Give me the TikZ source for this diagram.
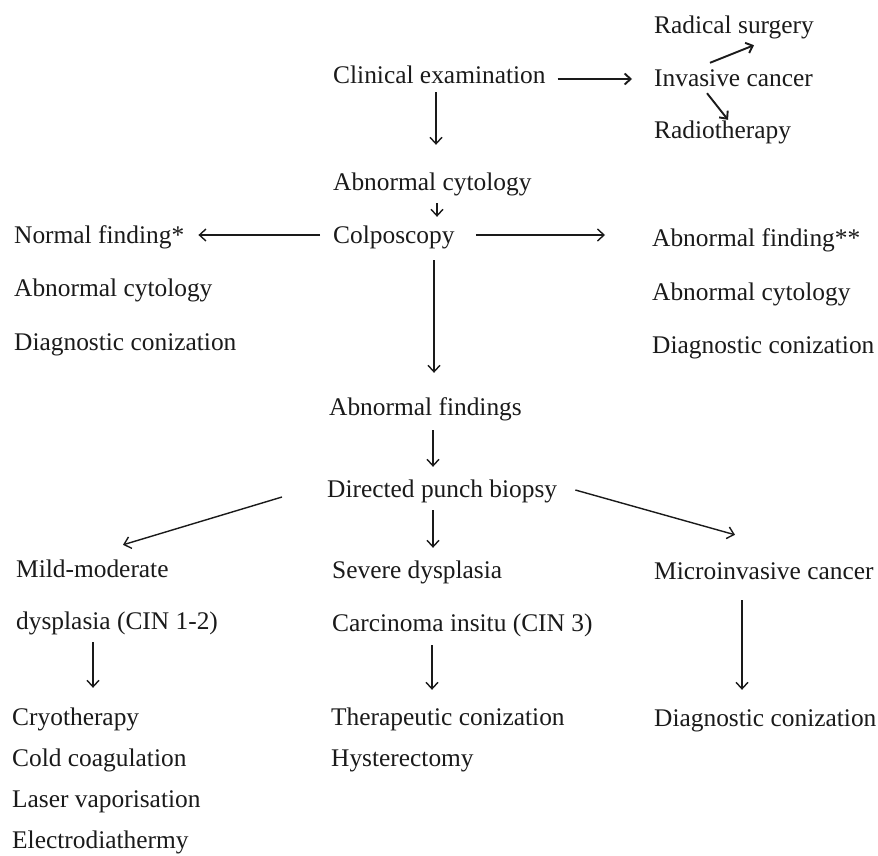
\documentclass[tikz,border=0pt]{standalone}
\usepackage{fontspec}
\setmainfont{Liberation Serif}
\usetikzlibrary{arrows.meta,calc}
\definecolor{ink}{HTML}{1A1A1A}
\tikzset{
  txt/.style={anchor=west, inner sep=0pt, text height=21pt, text depth=5pt,
    font=\fontsize{25.4}{30}\selectfont, text=ink},
  arr/.style={draw=ink, line width=1.4pt, -{Straight Barb[length=6.5pt,width=12pt]}},
  arrb/.style={draw=ink, line width=1.9pt, -{Straight Barb[length=6pt,width=11pt]}}
}
\begin{document}
\begin{tikzpicture}[x=1pt,y=-1pt]
\useasboundingbox[fill=white] (0,0) rectangle (878,855);
\coordinate (cx) at (436,0);
\coordinate (lx) at (93,0);
\coordinate (rx) at (742,0);
% top
\node[txt] (rad) at (654,25) {Radical surgery};
\node[txt] (clin) at (333,75) {Clinical examination};
\node[txt] (inv) at (654,78) {Invasive cancer};
\node[txt] (radio) at (654,130) {Radiotherapy};
\node[txt] (acyt) at (333,182) {Abnormal cytology};
\node[txt] (colp) at (333,235) {Colposcopy};
\node[txt] (normal) at (14,235) {Normal finding*};
\node[txt] (abnf) at (652,238) {Abnormal finding**};
\node[txt] (acytL) at (14,288) {Abnormal cytology};
\node[txt] (acytR) at (652,292) {Abnormal cytology};
\node[txt] (diagL) at (14,342) {Diagnostic conization};
\node[txt] (diagR) at (652,345) {Diagnostic conization};
\node[txt] (abnfs) at (329,407) {Abnormal findings};
\node[txt] (punch) at (327,489) {Directed punch biopsy};
\node[txt] (mild) at (16,569) {Mild-moderate};
\node[txt] (severe) at (332,570) {Severe dysplasia};
\node[txt] (micro) at (654,571) {Microinvasive cancer};
\node[txt] (dysp) at (16,621) {dysplasia (CIN 1-2)};
\node[txt] (carc) at (332,623) {Carcinoma insitu (CIN 3)};
\node[txt] (cryo) at (12,717) {Cryotherapy};
\node[txt] (ther) at (331,717) {Therapeutic conization};
\node[txt] (diagB) at (654,718) {Diagnostic conization};
\node[txt] (cold) at (12,758) {Cold coagulation};
\node[txt] (hyst) at (331,758) {Hysterectomy};
\node[txt] (laser) at (12,799) {Laser vaporisation};
\node[txt] (electro) at (12,840) {Electrodiathermy};
% connectors
\draw[arrb] ($(clin.east)+(12,4)$) -- ($(inv.west)+(-22,1)$);
\draw[arrb] ($(inv.north west)+(56,-2)$) -- ($(rad.south west)+(100,7)$);
\draw[arrb] ($(inv.south west)+(53,2)$) -- ($(radio.north west)+(74,3)$);
\draw[arr] ($(clin.south -| cx)+(0,4)$) -- ($(acyt.north -| cx)+(0,-24)$);
\draw[arr] ($(acyt.south -| cx)+(1,8)$) -- ($(colp.north -| cx)+(1,-5)$);
\draw[arr] ($(colp.west)+(-13,0)$) -- ($(normal.east)+(14,0)$);
\draw[arr] ($(colp.east)+(21,0)$) -- ($(abnf.west)+(-47,-3)$);
\draw[arr] ($(colp.south -| cx)+(-2,12)$) -- ($(abnfs.north -| cx)+(-2,-21)$);
\draw[arr] ($(abnfs.south -| cx)+(-3,10)$) -- ($(punch.north -| cx)+(-3,-9)$);
\draw[arr] ($(punch.west)+(-45,8)$) -- ($(mild.north west)+(107,-11)$);
\draw[arr] ($(punch.south -| cx)+(-3,8)$) -- ($(severe.north -| cx)+(-3,-9)$);
\draw[arr] ($(punch.east)+(18,1)$) -- ($(micro.north west)+(81,-23)$);
\draw[arr] ($(dysp.south -| lx)+(0,8)$) -- ($(cryo.north -| lx)+(0,-16)$);
\draw[arr] ($(carc.south -| cx)+(-4,9)$) -- ($(ther.north -| cx)+(-4,-14)$);
\draw[arr] ($(micro.south -| rx)+(0,16)$) -- ($(diagB.north -| rx)+(0,-15)$);
\end{tikzpicture}
\end{document}
